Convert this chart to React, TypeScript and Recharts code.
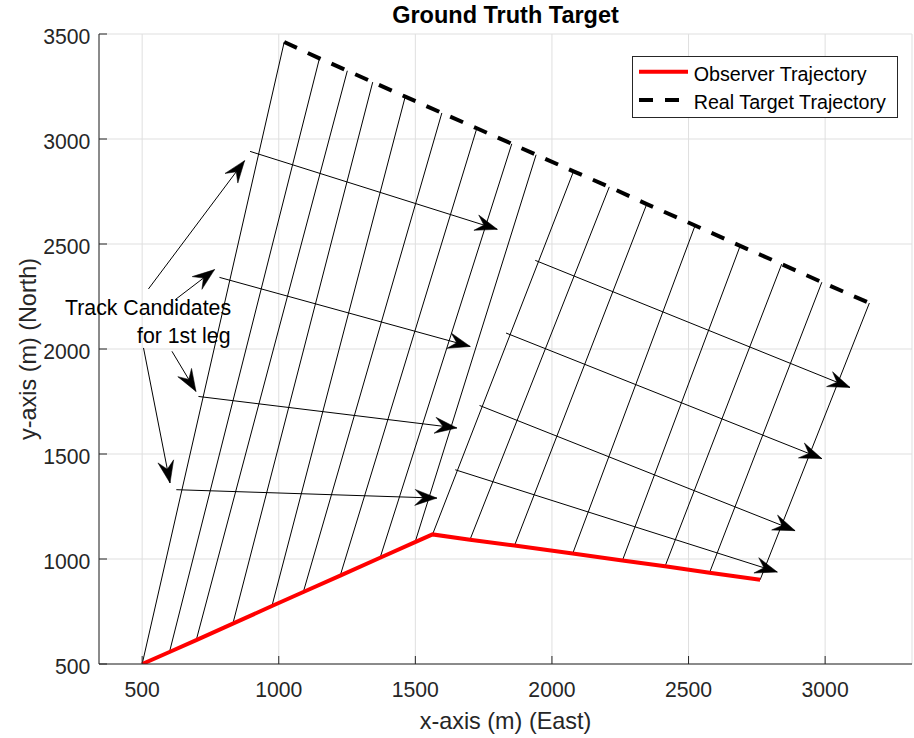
import React from 'react';
import { ComposedChart, Line, XAxis, YAxis, CartesianGrid, ReferenceLine, Legend } from 'recharts';

// ---- data ----
const observerX = [500, 600, 698, 832, 975, 1090, 1225, 1371, 1499, 1563, 1700, 1863, 2076, 2258, 2414, 2577, 2762];
const observerY = [500, 557, 614, 692, 776, 843, 921, 1006, 1080, 1117, 1092, 1064, 1026, 993, 965, 935, 901];
const targetX = [1020, 1149, 1251, 1344, 1463, 1597, 1725, 1853, 1942, 2079, 2210, 2347, 2524, 2689, 2841, 2988, 3162];
const targetY = [3462, 3384, 3325, 3271, 3202, 3124, 3051, 2977, 2925, 2846, 2772, 2690, 2588, 2491, 2404, 2318, 2219];

// annotation arrows: callouts (4), first-leg candidates (4), second-leg candidates (4)
const arrowStartX = [523, 621, 609, 505, 895, 783, 706, 625, 1939, 1832, 1735, 1646];
const arrowStartY = [2286, 2235, 1989, 2005, 2941, 2341, 1774, 1330, 2422, 2076, 1731, 1425];
const arrowEndX = [875, 765, 697, 602, 1800, 1701, 1652, 1579, 3091, 2988, 2890, 2825];
const arrowEndY = [2897, 2378, 1798, 1362, 2570, 2012, 1624, 1290, 1817, 1478, 1135, 938];

const xTicks = [500, 1000, 1500, 2000, 2500, 3000];
const yTicks = [500, 1000, 1500, 2000, 2500, 3000, 3500];
const xDomain = [342, 3318];
const yDomain = [500, 3500];

const titleText = 'Ground Truth Target';
const xLabel = 'x-axis (m) (East)';
const yLabel = 'y-axis (m) (North)';
const observerName = 'Observer Trajectory';
const targetName = 'Real Target Trajectory';
const noteLine1 = 'Track Candidates';
const noteLine2 = 'for 1st leg';

const observerData = observerX.map((x, i) => ({ x, y: observerY[i] }));
const targetData = targetX.map((x, i) => ({ x, y: targetY[i] }));

const FONT = '"Liberation Sans", Arial, Helvetica, sans-serif';
const AX = '#262626';
const TICK_LEN = 8;

const BottomTick = (props: any) => {
  const { x, y, payload } = props;
  return (
    <g>
      <line x1={x} y1={y} x2={x} y2={y - TICK_LEN} stroke={AX} strokeWidth={1} />
      <text x={x} y={y + 32.7} textAnchor="middle" fill={AX} fontSize={21.2} fontFamily={FONT}>
        {payload.value}
      </text>
    </g>
  );
};
const TopTick = (props: any) => {
  const { x, y } = props;
  return <line x1={x} y1={y} x2={x} y2={y + TICK_LEN} stroke={AX} strokeWidth={1} />;
};
const LeftTick = (props: any) => {
  const { x, y, payload } = props;
  return (
    <g>
      <line x1={x} y1={y} x2={x + TICK_LEN} y2={y} stroke={AX} strokeWidth={1} />
      <text x={x - 8.7} y={y + 10} textAnchor="end" fill={AX} fontSize={21.2} fontFamily={FONT}>
        {payload.value}
      </text>
    </g>
  );
};
const RightTick = (props: any) => {
  const { x, y } = props;
  return <line x1={x} y1={y} x2={x - TICK_LEN} y2={y} stroke={AX} strokeWidth={1} />;
};

const HEAD_L = 22;
const HEAD_W = 16;
const HEAD_N = 14;
const ArrowShape = (props: any) => {
  const { x1, y1, x2, y2 } = props;
  const ang = (Math.atan2(y2 - y1, x2 - x1) * 180) / Math.PI;
  return (
    <g>
      <line x1={x1} y1={y1} x2={x2} y2={y2} stroke="#000" strokeWidth={1} />
      <path
        d={`M0,0 L${-HEAD_L},${-HEAD_W / 2} L${-HEAD_N},0 L${-HEAD_L},${HEAD_W / 2} Z`}
        transform={`translate(${x2},${y2}) rotate(${ang})`}
        fill="#000"
        stroke="#000"
        strokeWidth={0.5}
        strokeLinejoin="miter"
      />
    </g>
  );
};

const LegendBox = () => (
  <svg width={266} height={62} style={{ display: 'block' }}>
    <rect x={0.5} y={0.5} width={265} height={61} fill="#fff" stroke={AX} strokeWidth={1} />
    <line x1={7} y1={15.7} x2={56} y2={15.7} stroke="#ff0000" strokeWidth={4} />
    <text x={61.7} y={25} fontSize={19.7} fontFamily={FONT} fill="#000">{observerName}</text>
    <line x1={7} y1={44} x2={56} y2={44} stroke="#000" strokeWidth={4} strokeDasharray="14 12" />
    <text x={61.7} y={53} fontSize={19.7} fontFamily={FONT} fill="#000">{targetName}</text>
  </svg>
);

export default function App() {
  return (
    <div style={{ position: 'absolute', left: 0, top: 0, width: 914, height: 738, background: '#fff' }}>
      <ComposedChart width={914} height={738} margin={{ top: 34, right: 2, bottom: 0, left: 0 }}>
        <CartesianGrid stroke="#dfdfdf" strokeWidth={1} />
        <XAxis
          type="number"
          dataKey="x"
          domain={xDomain}
          ticks={xTicks}
          interval={0}
          allowDataOverflow
          height={74}
          stroke={AX}
          tickSize={0}
          tickMargin={0}
          tickLine={false}
          tick={<BottomTick />}
        />
        <XAxis
          xAxisId="top"
          orientation="top"
          type="number"
          dataKey="x"
          domain={xDomain}
          ticks={xTicks}
          interval={0}
          allowDataOverflow
          height={0}
          stroke={AX}
          tickSize={0}
          tickMargin={0}
          tickLine={false}
          tick={<TopTick />}
        />
        <YAxis
          type="number"
          domain={yDomain}
          ticks={yTicks}
          interval={0}
          allowDataOverflow
          width={99}
          stroke={AX}
          tickSize={0}
          tickMargin={0}
          tickLine={false}
          tick={<LeftTick />}
        />
        <YAxis
          yAxisId="right"
          orientation="right"
          type="number"
          domain={yDomain}
          ticks={yTicks}
          interval={0}
          allowDataOverflow
          width={0}
          stroke={AX}
          tickSize={0}
          tickMargin={0}
          tickLine={false}
          tick={<RightTick />}
        />
        {observerX.map((ox, i) => (
          <Line
            key={'bearing' + i}
            data={[
              { x: ox, y: observerY[i] },
              { x: targetX[i], y: targetY[i] },
            ]}
            dataKey="y"
            type="linear"
            stroke="#000"
            strokeWidth={1}
            dot={false}
            activeDot={false}
            legendType="none"
            isAnimationActive={false}
          />
        ))}
        <Line
          data={observerData}
          dataKey="y"
          name={observerName}
          type="linear"
          stroke="#ff0000"
          strokeWidth={4}
          dot={false}
          activeDot={false}
          isAnimationActive={false}
        />
        <Line
          data={targetData}
          dataKey="y"
          name={targetName}
          type="linear"
          stroke="#000"
          strokeWidth={4}
          strokeDasharray="14 12"
          dot={false}
          activeDot={false}
          isAnimationActive={false}
        />
        {arrowStartX.map((sx, i) => (
          <ReferenceLine
            key={'arrow' + i}
            segment={[
              { x: sx, y: arrowStartY[i] },
              { x: arrowEndX[i], y: arrowEndY[i] },
            ]}
            ifOverflow="visible"
            stroke="#000"
            shape={ArrowShape}
          />
        ))}
        <Legend
          layout="horizontal"
          verticalAlign="middle"
          align="center"
          wrapperStyle={{ left: 632, top: 56, width: 266, height: 62 }}
          content={() => <LegendBox />}
        />
      </ComposedChart>
      <svg
        width={914}
        height={738}
        style={{ position: 'absolute', left: 0, top: 0, pointerEvents: 'none' }}
      >
        <text x={505.5} y={23} textAnchor="middle" fontWeight="bold" fontSize={23.5} fontFamily={FONT} fill="#000">
          {titleText}
        </text>
        <text x={505.5} y={729} textAnchor="middle" fontSize={23.4} fontFamily={FONT} fill={AX}>
          {xLabel}
        </text>
        <text transform="translate(36,349) rotate(-90)" textAnchor="middle" fontSize={23.4} fontFamily={FONT} fill={AX}>
          {yLabel}
        </text>
        <text x={65} y={315} fontSize={21.3} fontFamily={FONT} fill="#000">
          {noteLine1}
        </text>
        <text x={137} y={343} fontSize={21.3} fontFamily={FONT} fill="#000">
          {noteLine2}
        </text>
      </svg>
    </div>
  );
}
